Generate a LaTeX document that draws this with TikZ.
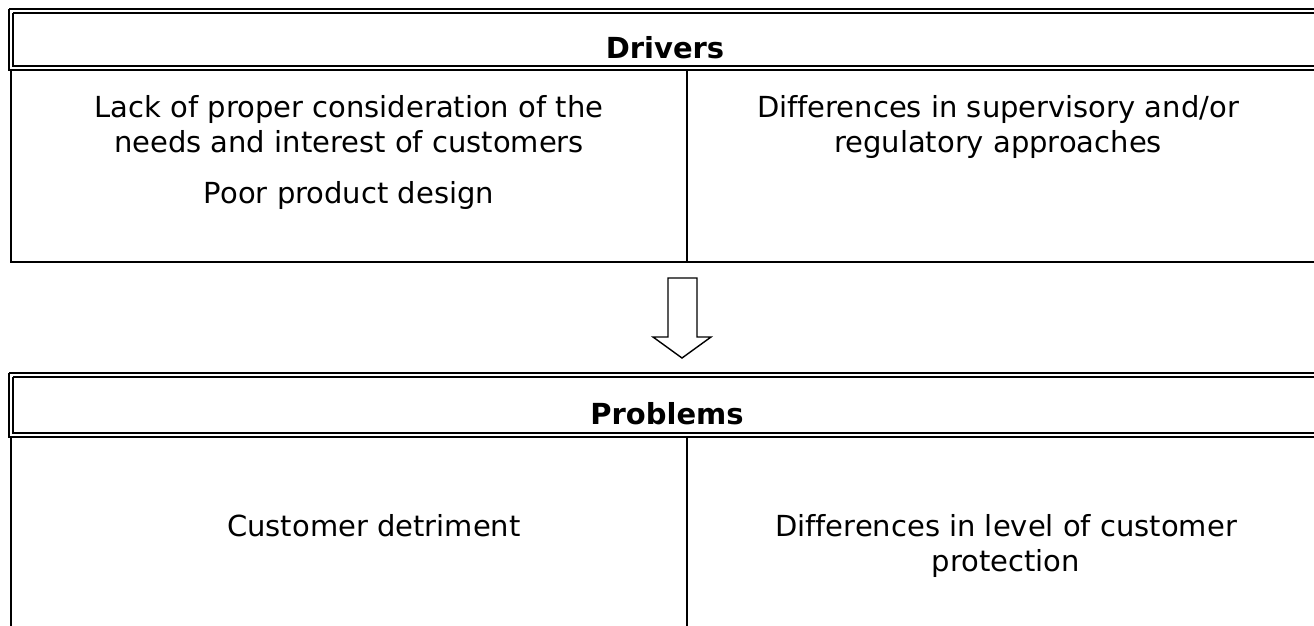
\documentclass[tikz,border=0pt]{standalone}
\usepackage{fontspec}
\setmainfont[Ligatures=NoCommon]{DejaVu Sans}
\begin{document}
\begin{tikzpicture}[x=1pt,y=-1pt,
  rule/.style={line width=1.9pt},
  thinrule/.style={line width=1.7pt},
  cell/.style={anchor=base,inner sep=0pt,font=\fontsize{29}{34}\selectfont},
  head/.style={cell,font=\fontsize{29}{34}\selectfont\bfseries},
  hollow/.style={line width=1.4pt,fill=white}]
\useasboundingbox (0,0) rectangle (1314,625);
\clip (0,0) rectangle (1314,625);

% ---- Drivers table ----
\draw[rule] (9,9) -- (1330,9);
\draw[rule] (9,9) -- (9,70) -- (1330,70);
\draw[rule] (13,13) -- (1330,13);
\draw[rule] (13,13) -- (13,66) -- (1330,66);
\draw[rule] (11,70) -- (11,262) -- (1330,262);
\draw[thinrule] (687,70) -- (687,262);

\node[head] (drivers) at (665,58) {Drivers};
\node[cell] (d1a) at (349,117) {Lack of proper consideration of the};
\node[cell] (d1b) at (349,152) {needs and interest of customers};
\node[cell] (d1c) at (349,203) {Poor product design};
\node[cell] (d2a) at (998,117) {Differences in supervisory and/or};
\node[cell] (d2b) at (998,152) {regulatory approaches};

% ---- hollow arrow between the tables ----
\draw[hollow] (668,278) -- (697,278) -- (697,337) -- (711,337) -- (682,358)
  -- (653,337) -- (668,337) -- cycle;

% ---- Problems table ----
\draw[rule] (9,373) -- (1330,373);
\draw[rule] (9,373) -- (9,437) -- (1330,437);
\draw[rule] (13,377) -- (1330,377);
\draw[rule] (13,377) -- (13,433) -- (1330,433);
\draw[rule] (11,437) -- (11,640);
\draw[thinrule] (687,437) -- (687,640);

\node[head] (problems) at (667,424) {Problems};
\node[cell] (p1) at (374,536) {Customer detriment};
\node[cell] (p2a) at (1006,536) {Differences in level of customer};
\node[cell] (p2b) at (1006,571) {protection};
\end{tikzpicture}
\end{document}
